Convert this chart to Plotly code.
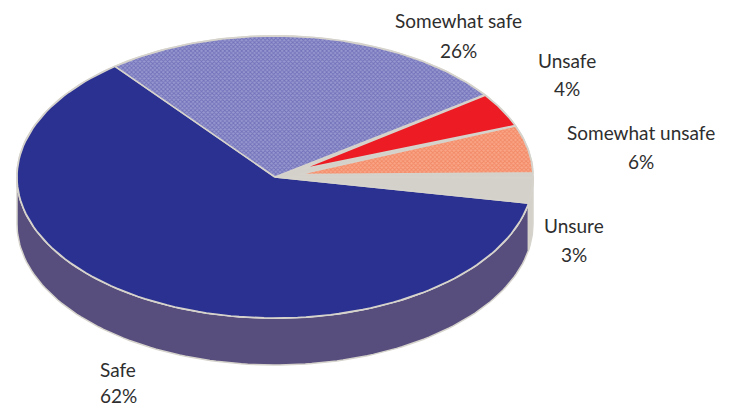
import numpy as np
import plotly.graph_objects as go

# Data
categories = ["Safe", "Somewhat safe", "Unsafe", "Somewhat unsafe", "Unsure"]
values = [62, 26, 4, 6, 3]

# Geometry and styling of the tilted disc (canvas units)
CX, CY, RX, RY, DEPTH = 275, 177, 258, 141, 47
START_DEG = -10.7
EDGE = "#d6d3cc"
BASE = "#d4d1ca"
TOP_COLORS = ["#2b3190", None, "#ed1c24", None, BASE]
PATTERNS = {
    "Somewhat safe": dict(shape="x", fgcolor="#4a4aa4", bgcolor="#9898d0", size=3, solidity=0.5),
    "Somewhat unsafe": dict(shape="x", fgcolor="#ea6a42", bgcolor="#f9a688", size=3, solidity=0.5),
}
APEX_INSET = {"Safe": 0, "Somewhat safe": 0, "Unsafe": 30, "Somewhat unsafe": 24, "Unsure": 0}
RIM_TRIM = {"Somewhat unsafe": 1.7}
SIDE_COLORS = {"Safe": "#584e7e", "Unsure": BASE}
LABEL_POS = [(118, 369, 395), (458, 20, 50), (567, 60, 88), (641, 132, 161), (574, 225, 254)]
FONT = dict(family="Lato, sans-serif", size=19, color="#2e2e2e")


def rim(t0, t1, dy=0, n=120):
    t = np.radians(np.linspace(t0, t1, n))
    return CX + RX * np.cos(t), CY - RY * np.sin(t) + dy


total = sum(values)
spans = [v / total * 360 for v in values]
fig = go.Figure()

bounds = []
a = START_DEG
for name, span in zip(categories, spans):
    bounds.append((name, a, a - span))
    a -= span

# side wall: only the part of each slice on the front half of the disc
for name, t0, t1 in bounds:
    if name not in SIDE_COLORS:
        continue
    if name == "Safe":
        lo, hi = 180, 360 + START_DEG
    else:
        lo, hi = 360 + START_DEG, 360
    x1, y1 = rim(lo, hi)
    x2, y2 = rim(hi, lo, DEPTH)
    fig.add_trace(go.Scatter(
        x=np.r_[x1, x2, x1[0]], y=np.r_[y1, y2, y1[0]], mode="lines", fill="toself",
        fillcolor=SIDE_COLORS[name], line=dict(color=EDGE, width=1.5), hoverinfo="skip",
    ))

# grey base of the top face
bx, by = rim(0, 360, n=240)
fig.add_trace(go.Scatter(x=bx, y=by, mode="lines", fill="toself", fillcolor=BASE,
                         line=dict(color=EDGE, width=2), hoverinfo="skip"))

# top-face slices
for (name, t0, t1), color in zip(bounds, TOP_COLORS):
    x, y = rim(t0, t1 + RIM_TRIM.get(name, 0))
    mid = np.radians((t0 + t1) / 2)
    ax = CX + APEX_INSET[name] * np.cos(mid)
    ay = CY - APEX_INSET[name] * np.sin(mid) * RY / RX
    kw = dict(fillpattern=PATTERNS[name], fillcolor="rgba(0,0,0,0)") if name in PATTERNS else dict(fillcolor=color)
    fig.add_trace(go.Scatter(
        x=np.r_[ax, x, ax], y=np.r_[ay, y, ay], mode="lines", fill="toself",
        line=dict(color=EDGE, width=1.6), name=name, hoverinfo="name", **kw,
    ))

annotations = []
for name, v, (lx, y1, y2) in zip(categories, values, LABEL_POS):
    annotations.append(dict(x=lx, y=y1, text=name, showarrow=False, font=FONT))
    annotations.append(dict(x=lx, y=y2, text=f"{v}%", showarrow=False, font=FONT))

fig.update_layout(
    width=729, height=408, margin=dict(l=0, r=0, t=0, b=0), showlegend=False,
    paper_bgcolor="white", plot_bgcolor="white", annotations=annotations,
    xaxis=dict(range=[0, 729], visible=False, fixedrange=True),
    yaxis=dict(range=[408, 0], visible=False, fixedrange=True),
)
fig.write_html("out.html", config=dict(displayModeBar=False),
               post_script="document.body.style.margin='0';")
